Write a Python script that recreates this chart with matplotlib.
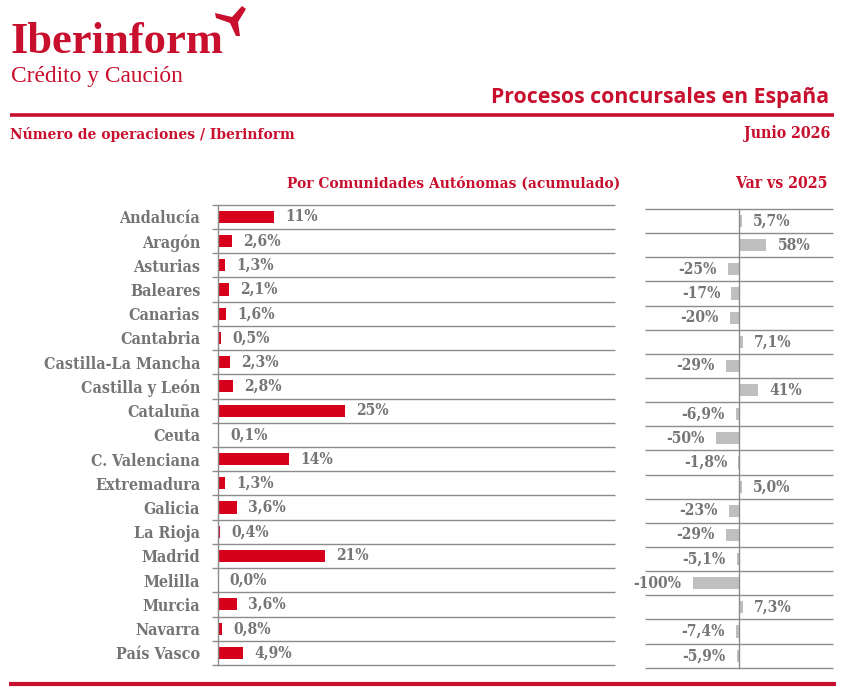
import matplotlib.pyplot as plt
from matplotlib.patches import Polygon

regions = ["Andalucía", "Aragón", "Asturias", "Baleares", "Canarias", "Cantabria",
           "Castilla-La Mancha", "Castilla y León", "Cataluña", "Ceuta",
           "C. Valenciana", "Extremadura", "Galicia", "La Rioja", "Madrid",
           "Melilla", "Murcia", "Navarra", "País Vasco"]
share_pct = [11, 2.6, 1.3, 2.1, 1.6, 0.5, 2.3, 2.8, 25, 0.1, 14, 1.3, 3.6, 0.4,
             21, 0.0, 3.6, 0.8, 4.9]
var_2025 = [5.7, 58, -25, -17, -20, 7.1, -29, 41, -6.9, -50, -1.8, 5.0, -23,
            -29, -5.1, -100, 7.3, -7.4, -5.9]

W, H = 847, 690
RED = "#d6001c"
BRAND = "#c8102e"
GREY_TXT = "#757575"
GRID = "#8c8c8c"
BAR_GREY = "#bfbfbf"
SLAB = dict(family="DejaVu Serif", weight="bold", stretch="condensed")


def fmt(v):
    if abs(v) >= 10:
        return f"{v:.0f}%"
    return f"{v:.1f}".replace(".", ",") + "%"


fig = plt.figure(figsize=(W / 100, H / 100), dpi=100)


def px_axes(x0, y0, x1, y1):
    return fig.add_axes([x0 / W, 1 - y1 / H, (x1 - x0) / W, (y1 - y0) / H])


# header / background layer in pixel coordinates
bg = px_axes(0, 0, W, H)
bg.set_xlim(0, W)
bg.set_ylim(H, 0)
bg.axis("off")

bg.text(11, 53, "Iberinform", color=BRAND, fontsize=32, weight="bold",
        family="Liberation Serif", va="baseline")
bg.add_patch(Polygon([(215, 13), (232, 17), (242, 6), (246, 9), (238, 22),
                      (240, 36), (236, 36), (230, 23), (216, 18)],
                     closed=True, color=BRAND, lw=0))
bg.text(11, 82, "Crédito y Caución", color=BRAND, fontsize=16.8,
        family="Liberation Serif", va="baseline")
bg.text(829, 102.5, "Procesos concursales en España", color=BRAND, fontsize=15.3,
        weight="bold", family="Open Sans", ha="right", va="baseline")
bg.plot([10, 834], [115, 115], color=BRAND, lw=2.6, solid_capstyle="butt")
bg.text(10, 138.5, "Número de operaciones / Iberinform", color=BRAND,
        fontsize=11.1, va="baseline", **SLAB)
bg.text(830, 138.5, "Junio 2026", color=BRAND, fontsize=11.3, ha="right",
        va="baseline", **SLAB)
bg.text(620, 188, "Por Comunidades Autónomas (acumulado)", color=BRAND,
        fontsize=11.1, ha="right", va="baseline", **SLAB)
bg.text(828, 188, "Var vs 2025", color=BRAND, fontsize=11.3, ha="right",
        va="baseline", **SLAB)
bg.plot([9, 836], [684, 684], color=BRAND, lw=3, solid_capstyle="butt")

n = len(regions)
ypos = [i + 0.5 for i in range(n)]

# left panel: share of procedures
ax = px_axes(212, 204.7, 615, 665)
ax.barh(ypos, share_pct, height=0.5, color=RED)
ax.set_xlim(-1.24, 78.1)
ax.set_ylim(n, 0)
ax.hlines(range(n + 1), -1.24, 78.1, color=GRID, lw=1, clip_on=False)
ax.axvline(0, color=GRID, lw=1, clip_on=False)
for s in ax.spines.values():
    s.set_visible(False)
ax.patch.set_alpha(0)
ax.set_xticks([])
ax.set_yticks(ypos, regions)
ax.tick_params(axis="y", length=0, pad=8.5)
for lbl in ax.get_yticklabels():
    lbl.set_color(GREY_TXT)
    lbl.set_fontsize(11.5)
    lbl.set_fontfamily(SLAB["family"])
    lbl.set_fontweight("bold")
    lbl.set_fontstretch("condensed")
for y, v in zip(ypos, share_pct):
    ax.annotate(fmt(v), (v, y), xytext=(8, 0), textcoords="offset points",
                ha="left", va="center", color=GREY_TXT, fontsize=11.2, **SLAB)

# right panel: variation vs 2025
ax2 = px_axes(645, 209, 833, 667.7)
ax2.barh(ypos, var_2025, height=0.5, color=BAR_GREY)
ax2.set_xlim(-202.8, 201.5)
ax2.set_ylim(n, 0)
ax2.hlines(range(n + 1), -202.8, 201.5, color=GRID, lw=1, clip_on=False)
ax2.axvline(0, color=GRID, lw=1, clip_on=False)
for s in ax2.spines.values():
    s.set_visible(False)
ax2.patch.set_alpha(0)
ax2.set_xticks([])
ax2.set_yticks([])
for y, v in zip(ypos, var_2025):
    off, ha = (8, "left") if v >= 0 else (-8, "right")
    ax2.annotate(fmt(v), (v, y), xytext=(off, 0), textcoords="offset points",
                 ha=ha, va="center", color=GREY_TXT, fontsize=11.2, **SLAB)

fig.savefig("out.png", dpi=100)
